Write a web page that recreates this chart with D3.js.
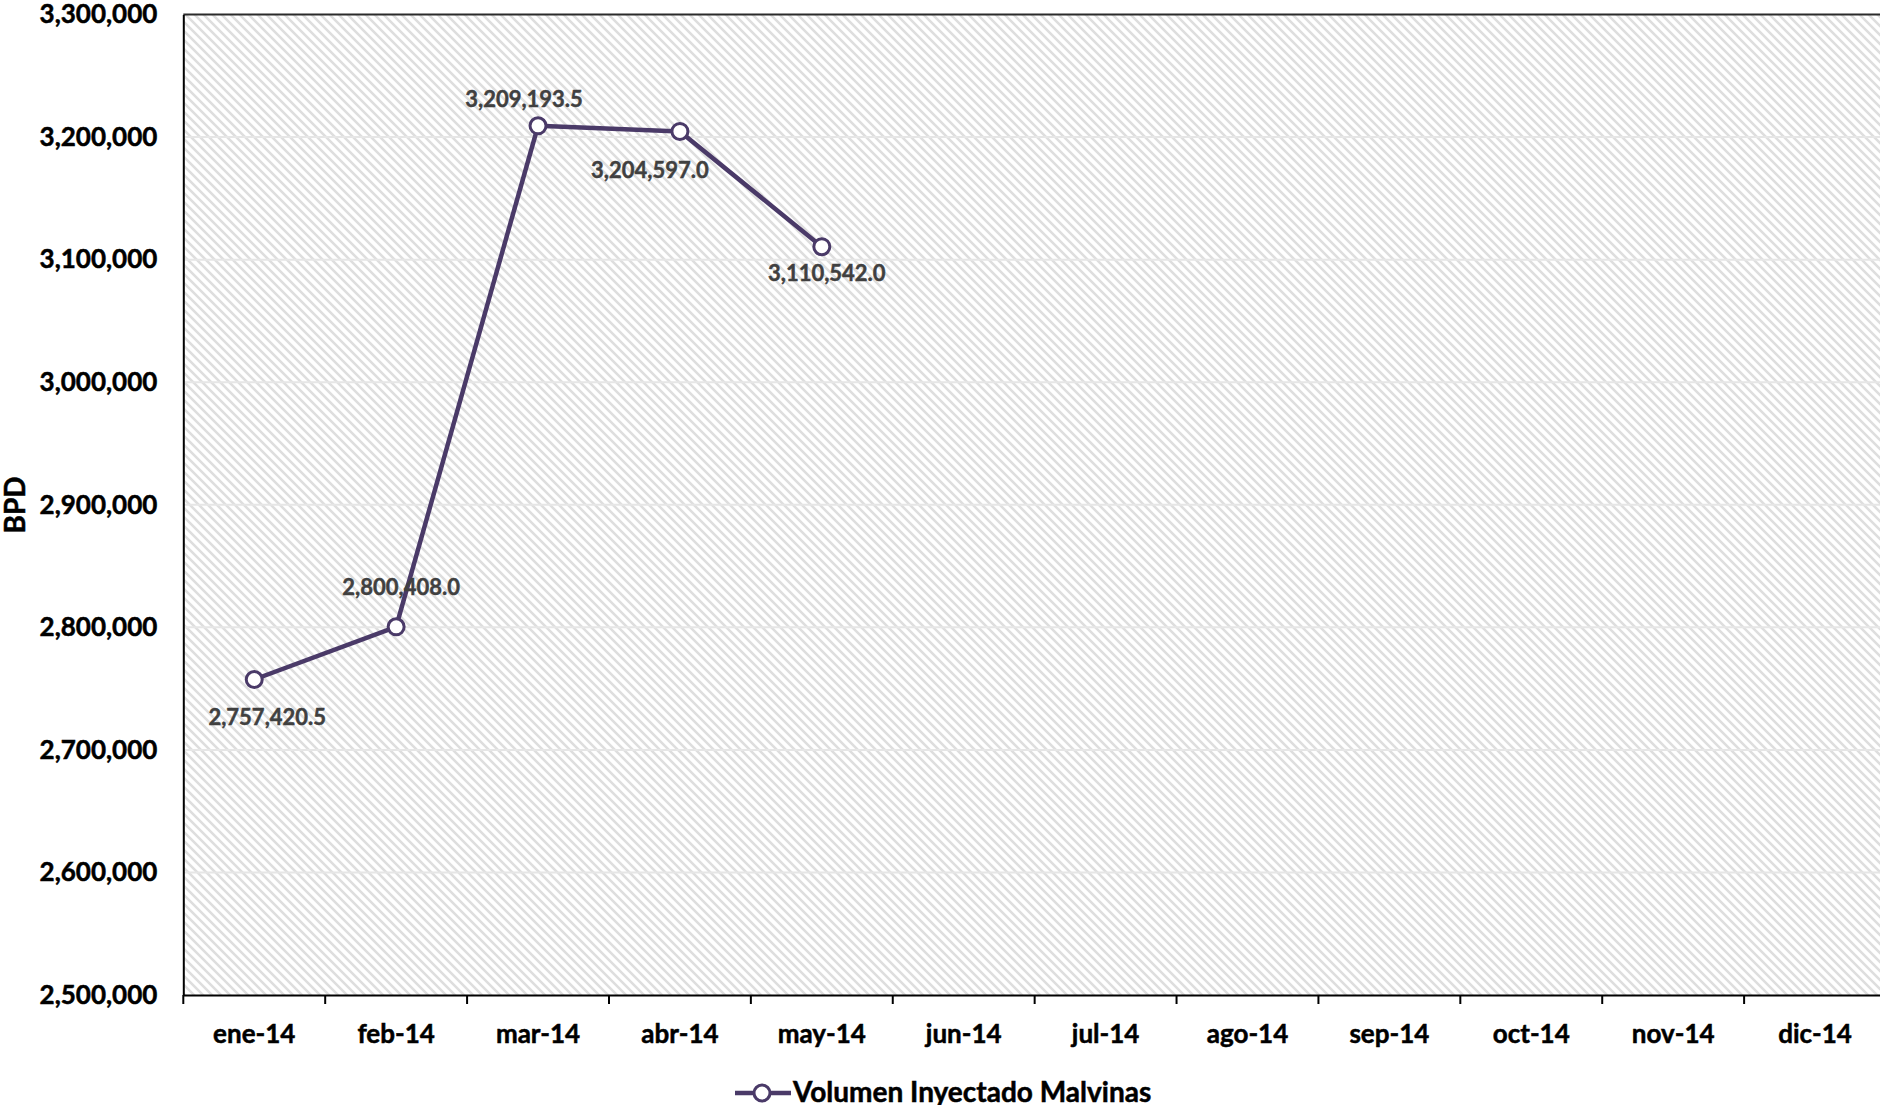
<!DOCTYPE html>
<html>
<head>
<meta charset="utf-8">
<script src="https://cdn.jsdelivr.net/npm/d3@7"></script>
<style>
  html, body { margin: 0; padding: 0; background: #fff; }
  svg { display: block; }
  text { font-family: Lato, "Noto Sans", sans-serif; font-weight: bold; }
</style>
</head>
<body>
<svg id="chart" width="1880" height="1105"></svg>
<script>
// ---- data ----
const categories = ["ene-14","feb-14","mar-14","abr-14","may-14","jun-14","jul-14","ago-14","sep-14","oct-14","nov-14","dic-14"];
const values = [2757420.5, 2800408.0, 3209193.5, 3204597.0, 3110542.0];
const yTicks = [2500000, 2600000, 2700000, 2800000, 2900000, 3000000, 3100000, 3200000, 3300000];
const seriesName = "Volumen Inyectado Malvinas";
const yTitle = "BPD";
// label placement relative to each point (annotation styling)
const labelOffsets = [[13, 46], [5, -32], [-14, -19], [-30, 47], [5, 34]];

// ---- layout ----
const plotL = 183.3, plotT = 14.5, plotB = 995, plotR = 1886;
const purple = "#4A3A68";

const svg = d3.select("#chart");
const defs = svg.append("defs");
const P = 9;
const pat = defs.append("pattern")
  .attr("id", "hatch").attr("patternUnits", "userSpaceOnUse")
  .attr("width", P).attr("height", P);
pat.append("rect").attr("width", P).attr("height", P).attr("fill", "#ffffff");
pat.append("path").attr("d", `M-2,-2 L${P+2},${P+2} M-2,${P-2} L2,${P+2} M${P-2},-2 L${P+2},2`)
  .attr("stroke", "#dedede").attr("stroke-width", 2.5);

const x = d3.scaleBand().domain(categories).range([plotL, plotR]);
const y = d3.scaleLinear().domain([2500000, 3300000]).range([plotB, plotT]);

// plot background
svg.append("rect").attr("x", plotL).attr("y", plotT)
  .attr("width", plotR - plotL).attr("height", plotB - plotT)
  .attr("fill", "url(#hatch)");

// gridlines
svg.append("g").selectAll("line").data(yTicks.slice(1, -1)).join("line")
  .attr("x1", plotL).attr("x2", plotR)
  .attr("y1", d => y(d)).attr("y2", d => y(d))
  .attr("stroke", "#e6e6e6").attr("stroke-width", 2);

// top border
svg.append("line").attr("x1", plotL).attr("x2", plotR)
  .attr("y1", y(3300000)).attr("y2", y(3300000))
  .attr("stroke", "#2b2b2b").attr("stroke-width", 2);

// y axis
const yAxis = svg.append("g").attr("transform", `translate(${plotL},0)`)
  .call(d3.axisLeft(y).tickValues(yTicks).tickFormat(d3.format(",")).tickSize(0).tickPadding(26));
yAxis.select(".domain").attr("stroke", "#000").attr("stroke-width", 2);
yAxis.selectAll("text").attr("font-size", 26).attr("fill", "#000")
  .attr("font-family", "Lato").attr("font-weight", "bold")
  .attr("stroke", "#000").attr("stroke-width", 0.5);

// x axis
const xAxis = svg.append("g").attr("transform", `translate(0,${plotB})`)
  .call(d3.axisBottom(x).tickSize(0).tickPadding(30));
xAxis.select(".domain").attr("stroke", "#000").attr("stroke-width", 2);
xAxis.selectAll("text").attr("font-size", 26).attr("fill", "#000")
  .attr("font-family", "Lato").attr("font-weight", "bold")
  .attr("stroke", "#000").attr("stroke-width", 0.5);
// boundary ticks
const bounds = categories.map(c => x(c)).concat([x.range()[1]]);
svg.append("g").selectAll("line").data(bounds).join("line")
  .attr("x1", d => d).attr("x2", d => d)
  .attr("y1", plotB).attr("y2", plotB + 9)
  .attr("stroke", "#000").attr("stroke-width", 2);

// y title
svg.append("text")
  .attr("transform", `translate(25,505) rotate(-90)`)
  .attr("text-anchor", "middle")
  .attr("font-size", 28).attr("fill", "#000")
  .attr("stroke", "#000").attr("stroke-width", 0.5)
  .text(yTitle);

// series
const pts = values.map((v, i) => ({ cat: categories[i], v, i }));
const cx = d => x(d.cat) + x.bandwidth() / 2;
svg.append("path").datum(pts)
  .attr("d", d3.line().x(cx).y(d => y(d.v)))
  .attr("fill", "none").attr("stroke", purple).attr("stroke-width", 4.5)
  .attr("stroke-linejoin", "round");
svg.append("g").selectAll("circle").data(pts).join("circle")
  .attr("cx", cx).attr("cy", d => y(d.v)).attr("r", 8)
  .attr("fill", "#fff").attr("stroke", purple).attr("stroke-width", 3);

// data labels
const fmt = d3.format(",.1f");
svg.append("g").selectAll("text").data(pts).join("text")
  .attr("x", d => cx(d) + labelOffsets[d.i][0])
  .attr("y", d => y(d.v) + labelOffsets[d.i][1])
  .attr("text-anchor", "middle")
  .attr("font-size", 22).attr("fill", "#404040")
  .attr("stroke", "#404040").attr("stroke-width", 0.45)
  .text(d => fmt(d.v));

// legend
const lg = svg.append("g");
lg.append("line").attr("x1", 735).attr("x2", 791).attr("y1", 1093).attr("y2", 1093)
  .attr("stroke", purple).attr("stroke-width", 4.5);
lg.append("circle").attr("cx", 762).attr("cy", 1093).attr("r", 8)
  .attr("fill", "#fff").attr("stroke", purple).attr("stroke-width", 3);
lg.append("text").attr("x", 793).attr("y", 1102)
  .attr("font-size", 28).attr("fill", "#000")
  .attr("stroke", "#000").attr("stroke-width", 0.5)
  .text(seriesName);
</script>
</body>
</html>
